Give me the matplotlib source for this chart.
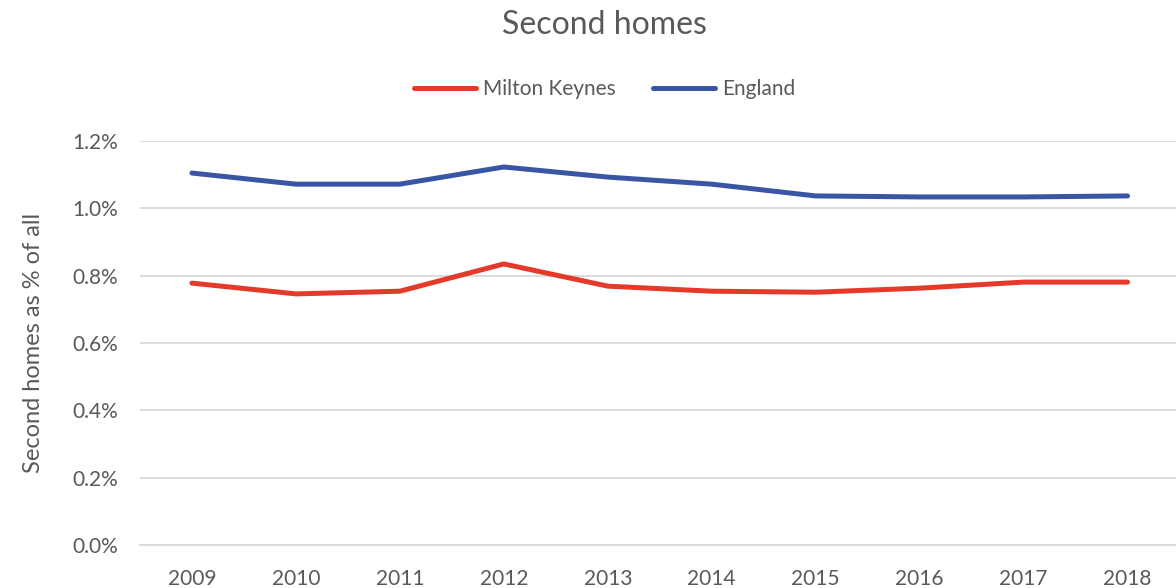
import matplotlib.pyplot as plt
from matplotlib.ticker import FuncFormatter

plt.rcParams['font.family'] = ['Lato', 'DejaVu Sans']

years = ['2009', '2010', '2011', '2012', '2013', '2014', '2015', '2016', '2017', '2018']
milton_keynes = [0.778, 0.746, 0.754, 0.835, 0.769, 0.754, 0.751, 0.763, 0.781, 0.781]
england = [1.105, 1.072, 1.072, 1.123, 1.093, 1.072, 1.037, 1.034, 1.034, 1.037]

text_color = '#595959'
red = '#E5392A'
blue = '#3B55A5'

fig = plt.figure(figsize=(11.76, 5.88), dpi=100)
ax = fig.add_axes([0.119, 0.0731, 0.884, 0.687])

x = range(len(years))
ax.plot(x, milton_keynes, color=red, lw=3.6, solid_capstyle='round', label='Milton Keynes')
ax.plot(x, england, color=blue, lw=3.6, solid_capstyle='round', label='England')

ax.set_xlim(-0.5, len(years) - 0.5)
ax.set_ylim(0, 1.2)
ax.set_yticks([0, 0.2, 0.4, 0.6, 0.8, 1.0, 1.2])
ax.yaxis.set_major_formatter(FuncFormatter(lambda v, p: '%.1f%%' % v))
ax.set_xticks(list(x))
ax.set_xticklabels(years)
ax.grid(axis='y', color='#D9D9D9', lw=1.3)
ax.set_axisbelow(True)
for s in ['top', 'right', 'left']:
    ax.spines[s].set_visible(False)
ax.spines['bottom'].set_color('#D9D9D9')
ax.spines['bottom'].set_linewidth(1.3)
ax.tick_params(length=0, labelsize=15, labelcolor=text_color)
ax.tick_params(axis='x', pad=17)
ax.tick_params(axis='y', pad=16)

ax.set_ylabel('Second homes as % of all', fontsize=17, color=text_color, labelpad=20)

fig.text(0.514, 0.957, 'Second homes', ha='center', va='center', fontsize=23, color=text_color)
fig.legend(loc='center', bbox_to_anchor=(0.514, 0.848), ncol=2, frameon=False,
           fontsize=15, labelcolor=text_color, handlelength=3.0, handletextpad=0.3,
           columnspacing=1.8)

fig.savefig('out.png', dpi=100)
